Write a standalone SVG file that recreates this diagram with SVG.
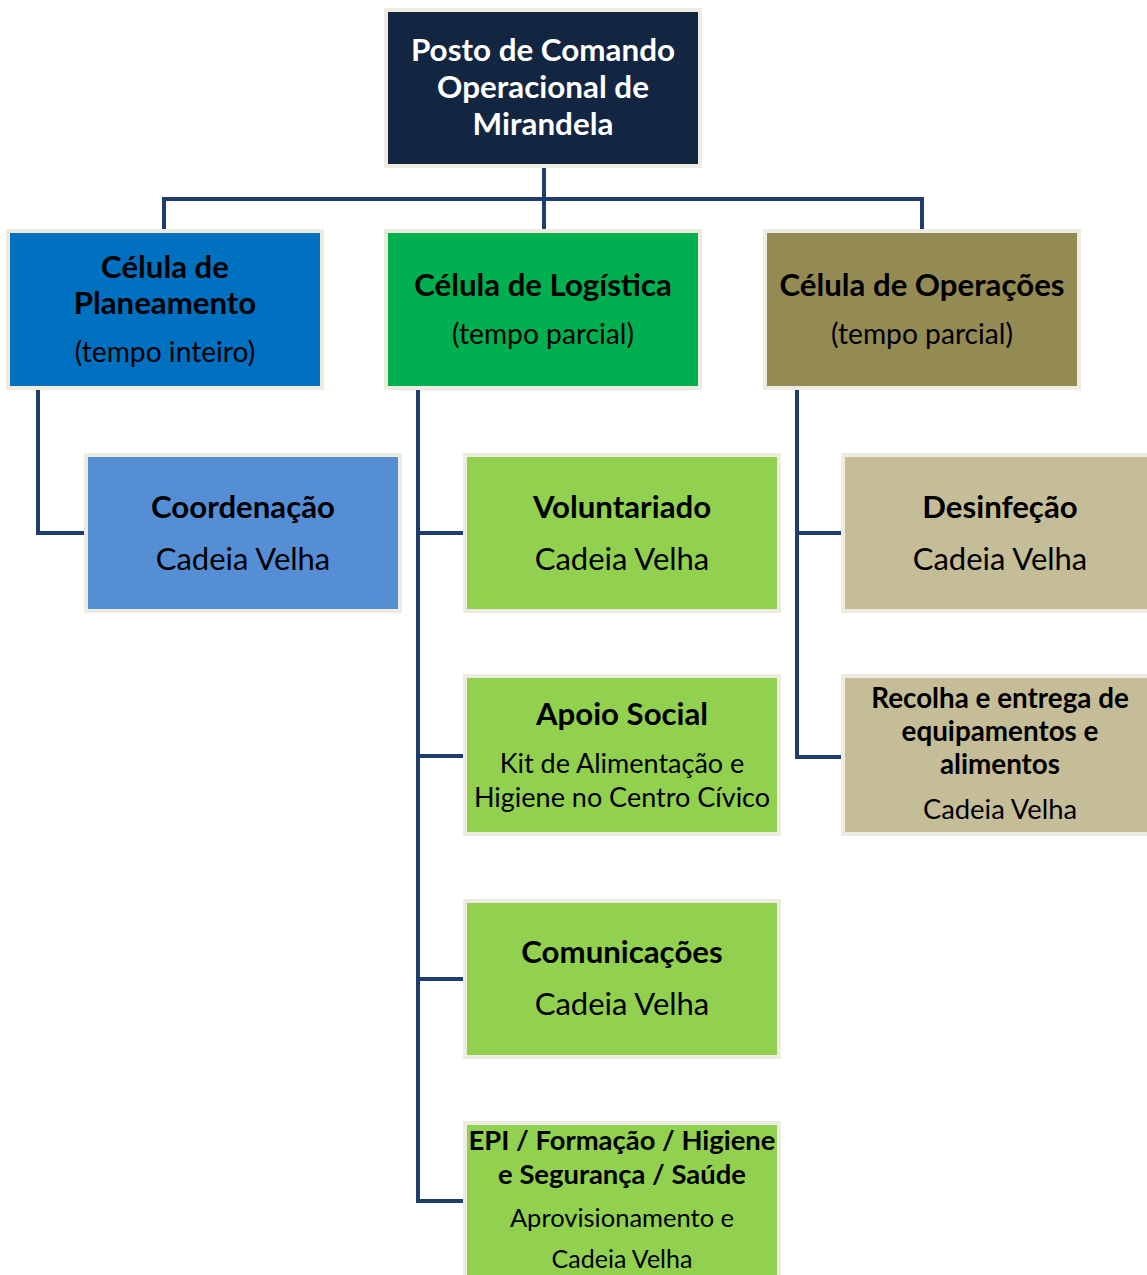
<svg xmlns="http://www.w3.org/2000/svg" width="1147" height="1275" viewBox="0 0 1147 1275">
<style>
.box{stroke:#EEECE1;stroke-width:4}
.t{font-family:Lato,"Open Sans","Liberation Sans",sans-serif;text-anchor:middle;fill:#000}
.b{font-weight:bold}
.w{fill:#fff}
.conn{fill:none;stroke:#1F3D6B;stroke-width:4}
</style>
<rect width="1147" height="1275" fill="#fff"/>
<g id="connectors">
<path class="conn" d="M544 166V230M164 199H922M164 197V232M922 197V232"/>
<path class="conn" d="M38 388V533H86"/>
<path class="conn" d="M418 388V1201H465M418 533H465M418 756H465M418 979H465"/>
<path class="conn" d="M797 388V757H843M797 533H843"/>
</g>
<g id="posto">
<rect class="box" x="386" y="10" width="314" height="156" fill="#132641"/>
<text class="t b w" font-size="31.4" x="543" y="61">Posto de Comando</text>
<text class="t b w" font-size="31.4" x="543" y="98">Operacional de</text>
<text class="t b w" font-size="31.4" x="543" y="135">Mirandela</text>
</g>
<g id="planeamento">
<rect class="box" x="8" y="231" width="314" height="157" fill="#0070C0"/>
<text class="t b" font-size="31.2" x="165" y="278">Célula de</text>
<text class="t b" font-size="31.2" x="165" y="314">Planeamento</text>
<text class="t" font-size="28.2" x="165" y="362">(tempo inteiro)</text>
</g>
<g id="logistica">
<rect class="box" x="386" y="231" width="314" height="157" fill="#00B050"/>
<text class="t b" font-size="31.2" x="543" y="296">Célula de Logística</text>
<text class="t" font-size="28.2" x="543" y="344">(tempo parcial)</text>
</g>
<g id="operacoes">
<rect class="box" x="765" y="231" width="314" height="157" fill="#948A54"/>
<text class="t b" font-size="31.2" x="922" y="296">Célula de Operações</text>
<text class="t" font-size="28.2" x="922" y="344">(tempo parcial)</text>
</g>
<g id="coordenacao">
<rect class="box" x="86" y="455" width="314" height="156" fill="#558ED5"/>
<text class="t b" font-size="31.2" x="243" y="518">Coordenação</text>
<text class="t" font-size="31" x="243" y="570">Cadeia Velha</text>
</g>
<g id="voluntariado">
<rect class="box" x="465" y="455" width="314" height="156" fill="#92D050"/>
<text class="t b" font-size="31.2" x="622" y="518">Voluntariado</text>
<text class="t" font-size="31" x="622" y="570">Cadeia Velha</text>
</g>
<g id="apoio-social">
<rect class="box" x="465" y="676" width="314" height="158" fill="#92D050"/>
<text class="t b" font-size="31.2" x="622" y="725">Apoio Social</text>
<text class="t" font-size="27" x="622" y="773">Kit de Alimentação e</text>
<text class="t" font-size="27" x="622" y="807">Higiene no Centro Cívico</text>
</g>
<g id="comunicacoes">
<rect class="box" x="465" y="901" width="314" height="156" fill="#92D050"/>
<text class="t b" font-size="31.2" x="622" y="963">Comunicações</text>
<text class="t" font-size="31" x="622" y="1015">Cadeia Velha</text>
</g>
<g id="epi">
<rect class="box" x="465" y="1123" width="314" height="160" fill="#92D050"/>
<text class="t b" font-size="27.4" x="622" y="1150">EPI / Formação / Higiene</text>
<text class="t b" font-size="27.4" x="622" y="1184">e Segurança / Saúde</text>
<text class="t" font-size="25.5" x="622" y="1227">Aprovisionamento e</text>
<text class="t" font-size="25" x="622" y="1268">Cadeia Velha</text>
</g>
<g id="desinfecao">
<rect class="box" x="843" y="455" width="314" height="156" fill="#C4BD97"/>
<text class="t b" font-size="31.2" x="1000" y="518">Desinfeção</text>
<text class="t" font-size="31" x="1000" y="570">Cadeia Velha</text>
</g>
<g id="recolha">
<rect class="box" x="843" y="676" width="314" height="158" fill="#C4BD97"/>
<text class="t b" font-size="27.8" x="1000" y="708">Recolha e entrega de</text>
<text class="t b" font-size="27.8" x="1000" y="741">equipamentos e</text>
<text class="t b" font-size="27.8" x="1000" y="774">alimentos</text>
<text class="t" font-size="27.4" x="1000" y="819">Cadeia Velha</text>
</g>
</svg>
